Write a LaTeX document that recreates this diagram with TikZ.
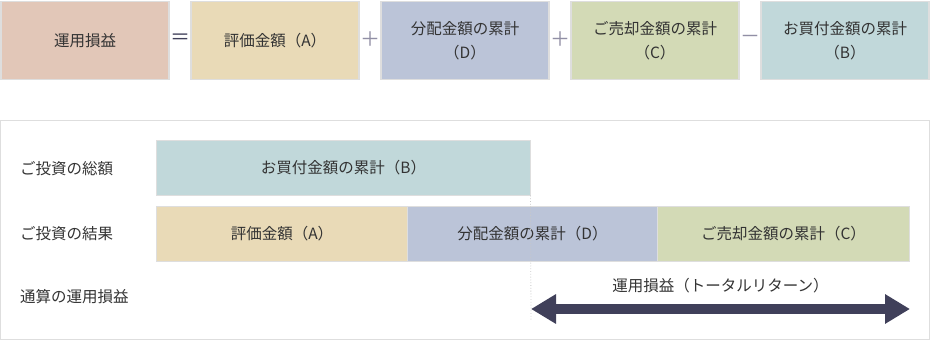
\documentclass[tikz,border=0pt]{standalone}
\usepackage{fontspec}
\setmainfont{Noto Sans CJK JP}
\definecolor{ProfitColor}{RGB}{226,199,184}
\definecolor{ValueColor}{RGB}{233,218,183}
\definecolor{DistColor}{RGB}{187,196,216}
\definecolor{SaleColor}{RGB}{211,218,182}
\definecolor{BuyColor}{RGB}{193,216,218}
\definecolor{TextGray}{RGB}{51,51,51}
\definecolor{EdgeGray}{RGB}{222,222,222}
\definecolor{DotGray}{RGB}{200,200,200}
\definecolor{ArrowNavy}{RGB}{64,64,90}
\definecolor{OpGray}{RGB}{145,143,165}
\usetikzlibrary{positioning, arrows.meta}

\tikzset{
  termbox/.style={draw=EdgeGray, line width=1.2pt, minimum width=168pt, minimum height=78pt,
    align=center, text=TextGray, inner sep=0pt},
  barbox/.style={draw=EdgeGray, line width=1pt, minimum height=55pt, text=TextGray,
    inner sep=0pt, outer sep=0pt},
  rowlabel/.style={anchor=west, text=TextGray, inner sep=0pt},
  opsign/.style={inner sep=0pt, font=\fontsize{20}{20}\selectfont},
}

\begin{document}
\begin{tikzpicture}[x=1pt,y=-1pt, font=\fontsize{15.5}{24}\selectfont]
  \useasboundingbox (0,0) rectangle (930,340);

  % equation row
  \foreach \name/\cx/\col/\txt in {profit/85/ProfitColor/{運用損益},
      valA/275/ValueColor/{評価金額（A）},
      distD/465/DistColor/{分配金額の累計\\（D）},
      saleC/655/SaleColor/{ご売却金額の累計\\（C）},
      buyB/845/BuyColor/{お買付金額の累計\\（B）}}
  {
    \node[termbox, fill=\col] (\name) at (\cx,40.5) {\txt};
  }
  \node[opsign, ArrowNavy] (eq) at (180,39.5) {＝};
  \node[opsign, OpGray] (plus1) at (370,39.5) {＋};
  \node[opsign, OpGray] (plus2) at (560,39.5) {＋};
  \node[opsign, OpGray] (minus) at (750,39.5) {－};

  % breakdown panel
  \draw[EdgeGray, line width=1pt] (0.5,120.5) rectangle (929.5,339.5);

  \node[rowlabel] (lbltotal) at (20,169) {ご投資の総額};
  \node[rowlabel] (lblresult) at (20,234) {ご投資の結果};
  \node[rowlabel] (lblreturn) at (20,297) {通算の運用損益};

  \node[barbox, fill=BuyColor, minimum width=374pt] (buytotal) at (343.5,168) {お買付金額の累計（B）};
  \node[barbox, fill=ValueColor, minimum width=251pt] (resA) at (282,234) {評価金額（A）};
  \node[barbox, fill=DistColor, minimum width=250pt, right=0pt of resA] (resD) {分配金額の累計（D）};
  \node[barbox, fill=SaleColor, minimum width=252pt, right=0pt of resD] (resC) {ご売却金額の累計（C）};

  \coordinate (retL) at (531,309);
  \coordinate (retR) at (910,309);
  \coordinate (dotend) at (531,320);
  \draw[DotGray, dotted, line width=0.8pt] (buytotal.south east) -- (dotend);
  \draw[ArrowNavy, line width=10pt,
    {Triangle[length=25pt,width=28pt]}-{Triangle[length=25pt,width=28pt]}] (retL) -- (retR);
  \node[text=TextGray, inner sep=0pt] (retlabel) at (720.5,286) {運用損益（トータルリターン）};
\end{tikzpicture}
\end{document}
